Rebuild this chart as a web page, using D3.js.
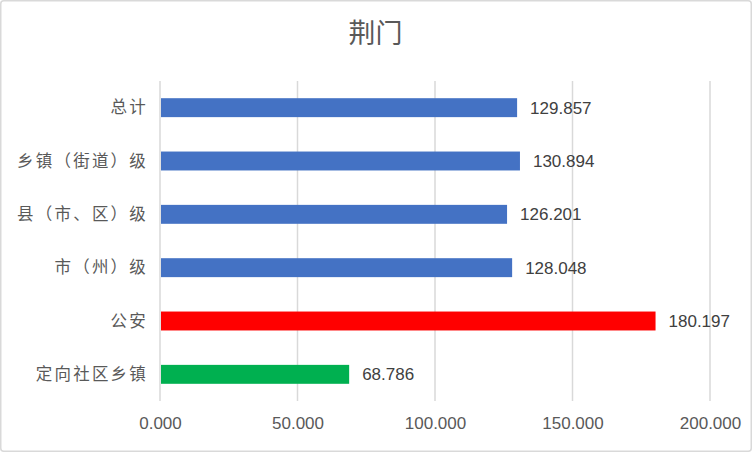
<!DOCTYPE html>
<html><head><meta charset="utf-8">
<script src="https://cdn.jsdelivr.net/npm/d3@7"></script>
<style>html,body{margin:0;padding:0;background:#fff;}</style>
</head><body>
<svg id="c" width="752" height="452"></svg>
<script>
const title = "荆门";
const categories = ["总计","乡镇（街道）级","县（市、区）级","市（州）级","公安","定向社区乡镇"];
const values = [129.857,130.894,126.201,128.048,180.197,68.786];
const colors = ["#4472C4","#4472C4","#4472C4","#4472C4","#FF0000","#00B050"];
const xTicks = [0,50,100,150,200];

const svg = d3.select("#c");
svg.append("rect").attr("x",0.75).attr("y",0.75).attr("width",750.5).attr("height",450.5)
  .attr("rx",3).attr("fill","#fff").attr("stroke","#d9d9d9").attr("stroke-width",1.5);

const x = d3.scaleLinear().domain([0,200]).range([160,710]);
const y = d3.scaleBand().domain(categories).range([81,401]).paddingInner(0.645).paddingOuter(0.3225);

svg.append("text").attr("x",375.5).attr("y",43).attr("text-anchor","middle")
  .attr("font-family","'Noto Sans CJK SC', sans-serif").attr("font-size",27).attr("fill","#595959").text(title);

// gridlines
svg.append("g").selectAll("line").data(xTicks).join("line")
  .attr("x1",d=>x(d)).attr("x2",d=>x(d)).attr("y1",81).attr("y2",401)
  .attr("stroke","#d9d9d9").attr("stroke-width",1.5);

// x axis labels
const xAxis = d3.axisBottom(x).tickValues(xTicks).tickFormat(d3.format(".3f")).tickSize(0).tickPadding(0);
const gx = svg.append("g").attr("transform","translate(0,418)").call(xAxis);
gx.select(".domain").remove();
gx.selectAll("text").attr("font-family","'Liberation Sans', Arial, sans-serif").attr("font-size",17).attr("fill","#595959").attr("dy","0.71em").attr("y",-1);

// y axis labels
const yAxis = d3.axisLeft(y).tickSize(0).tickPadding(12);
const gy = svg.append("g").attr("transform","translate(160,0)").call(yAxis);
gy.select(".domain").remove();
gy.selectAll("text").attr("font-family","'Noto Sans CJK SC', sans-serif").attr("font-size",16.5).attr("letter-spacing","2.2px").attr("fill","#595959").attr("dy","0.35em");

// bars
const data = categories.map((c,i)=>({c, v:values[i], col:colors[i]}));
svg.append("g").selectAll("rect").data(data).join("rect")
  .attr("x",x(0)+1).attr("y",d=>y(d.c)).attr("width",d=>x(d.v)-x(0)-1).attr("height",y.bandwidth())
  .attr("fill",d=>d.col);

// value labels
svg.append("g").selectAll("text").data(data).join("text")
  .attr("x",d=>x(d.v)+13).attr("y",d=>y(d.c)+y.bandwidth()/2).attr("dy","0.36em")
  .attr("font-family","'Liberation Sans', Arial, sans-serif").attr("font-size",17).attr("fill","#404040")
  .text(d=>d3.format(".3f")(d.v));
</script>
</body></html>
